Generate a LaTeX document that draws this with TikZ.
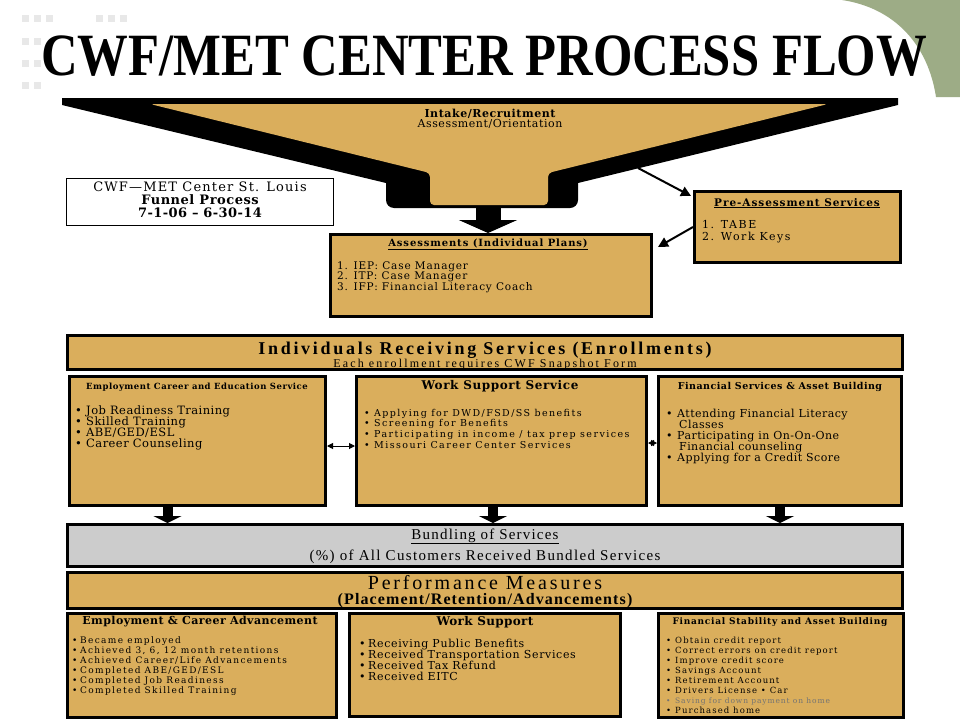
\documentclass[tikz,border=0pt]{standalone}
\usepackage{fontspec}
\usepackage{graphicx}
\setmainfont{DejaVu Serif}
\newfontfamily\tms{Liberation Serif}
\usetikzlibrary{arrows.meta,fit,calc}
\definecolor{tan}{RGB}{218,174,92}
\definecolor{sage}{RGB}{157,172,134}
\definecolor{bgray}{RGB}{204,204,204}
\definecolor{sq}{RGB}{232,232,232}
\newcommand\fs[2]{\fontsize{#1}{#1}\selectfont\addfontfeature{LetterSpace=#2}}
\begin{document}
\begin{tikzpicture}[x=1pt,y=-1pt,
  tbox/.style={draw=black, line width=3pt, fill=tan, inner sep=0pt},
  gbox/.style={draw=black, line width=3pt, fill=bgray, inner sep=0pt},
  ttl/.style={anchor=base, inner sep=0pt},
  lst/.style={anchor=base west, inner sep=0pt},
  conn/.style={draw=black, line width=2pt, -{Triangle[length=10pt,width=10pt]}},
  dbl/.style={draw=black, line width=1pt, {Triangle[length=6pt,width=6pt]}-{Triangle[length=6pt,width=6pt]}},
  blk/.style={draw=black, line width=10pt, -{Triangle[length=7pt,width=28pt]}},
  big/.style={draw=black, line width=25pt, -{Triangle[length=13pt,width=58pt]}},
]
\useasboundingbox (0,0) rectangle (960,720);
\fill[white] (0,0) rectangle (960,720);
% decoration
\fill[sage] (842,0) .. controls (895,8) and (928,45) .. (936,97) -- (960,97) -- (960,0) -- cycle;
\foreach \x in {22,34,46,96,108,120} \fill[sq] (\x,15) rectangle ++(7,7);
\foreach \yy in {38,60,82} \foreach \x in {22,34} \fill[sq] (\x,\yy) rectangle ++(7,7);
% title
\node[ttl] (title) at (484,75) {\scalebox{0.845}[1]{\tms\bfseries\fontsize{60}{60}\selectfont CWF/MET CENTER PROCESS FLOW}};
% funnel
\fill[black] (62,98) -- (898,98) -- (898,105) -- (578,183) [rounded corners=8pt] -- (578,208) -- (386,208) [sharp corners] -- (386,183) -- (62,105) -- cycle;
\fill[tan, rounded corners=4pt] (150,104) -- (828,104) -- (548,173) -- (548,205) -- (430,205) -- (430,173) -- cycle;
\coordinate (fbot) at (488,207);
\coordinate (fR) at (638,168);
\node[ttl] (intake) at (490,117) {\bfseries\fs{11}{5}Intake/Recruitment};
\node[ttl] (orient) at (490,127.5) {\fs{11}{5}Assessment/Orientation};
% CWF label box
\node[draw, line width=1pt, fill=white, inner sep=0pt, fit={(66.5,178.5)(333.5,225.5)}] (cwf) {};
\node[ttl] (cwf1) at (200,191) {\fs{13}{9}CWF—MET Center St. Louis};
\node[ttl] (cwf2) at (200,204) {\bfseries\fs{13}{4}Funnel Process};
\node[ttl] (cwf3) at (200,217) {\bfseries\fs{13}{3}7-1-06 – 6-30-14};
% pre-assessment
\node[tbox, fit={(694.5,191.5)(900.5,262.5)}] (pre) {};
\node[ttl] (preT) at (797,206) {\bfseries\fs{10.5}{9}\underline{Pre-Assessment Services}};
\node[lst] (pre1) at (702,228) {\fs{11}{14}1. TABE};
\node[lst] (pre2) at (702,240) {\fs{11}{14}2. Work Keys};
% assessments
\node[tbox, fit={(330.5,234.5)(651.5,316.5)}] (assess) {};
\node[ttl] (assT) at (488,246) {\bfseries\fs{10}{9}\underline{Assessments (Individual Plans)}};
\foreach \itm [count=\i from 0] in {1. IEP: Case Manager, 2. ITP: Case Manager, 3. IFP: Financial Literacy Coach}
  \node[lst] (ass\i) at (337,269+10.5*\i) {\fs{10.5}{8}\itm};
% connectors top
\coordinate (pretip) at (691,196);
\coordinate (atip) at (658,247);
\draw[big] (fbot) -- (fbot |- assess.north);
\draw[conn] (fR) -- (pretip);
\draw[conn] (pre.west) -- (atip);
% individuals
\node[tbox, fit={(67.5,335.5)(902.5,369.5)}] (indiv) {};
\node[ttl] (indT) at (485,354) {\tms\bfseries\fs{18}{15}Individuals Receiving Services (Enrollments)};
\node[ttl] (indS) at (485,367.5) {\tms\fs{12}{18}Each enrollment requires CWF Snapshot Form};
% middle boxes
\node[tbox, fit={(69.5,376.5)(325.5,505.5)}] (emp) {};
\node[tbox, fit={(356.5,376.5)(646.5,505.5)}] (work) {};
\node[tbox, fit={(658.5,376.5)(901.5,505.5)}] (fin) {};
\node[ttl] (empT) at (197,389) {\bfseries\fs{8.5}{6}Employment Career and Education Service};
\foreach \itm [count=\i from 0] in {Job Readiness Training, Skilled Training, ABE/GED/ESL, Career Counseling}
  \node[lst] (emp\i) at (75,414+11*\i) {\fs{11.5}{4}\makebox[11pt][l]{•}\itm};
\node[ttl] (workT) at (500,389) {\bfseries\fs{12}{5}Work Support Service};
\foreach \itm [count=\i from 0] in {Applying for DWD/FSD/SS benefits, Screening for Benefits, Participating in income / tax prep services, Missouri Career Center Services}
  \node[lst] (work\i) at (364,416+10.7*\i) {\fs{9.5}{15}\makebox[10pt][l]{•}\itm};
\node[ttl] (finT) at (780,389) {\bfseries\fs{9.5}{5}Financial Services \& Asset Building};
\foreach \itm [count=\i from 0] in {\makebox[11pt][l]{•}Attending Financial Literacy, \hspace*{13pt}Classes, \makebox[11pt][l]{•}Participating in On-On-One, \hspace*{13pt}Financial counseling, \makebox[11pt][l]{•}Applying for a Credit Score}
  \node[lst] (fin\i) at (666,417+11*\i) {\fs{11}{4}\itm};
\draw[dbl] ([yshift=-5pt]emp.east) -- ([yshift=-5pt]work.west);
\draw[dbl] ([yshift=-2pt]work.east) -- ([yshift=-2pt]fin.west);
% bundling
\node[gbox, fit={(67.5,524.5)(902.5,566.5)}] (bund) {};
\node[ttl] (bundT) at (485,539) {\tms\fs{15}{8}\underline{Bundling of Services}};
\node[ttl] (bundS) at (485,560) {\tms\fs{15}{9}(\%) of All Customers Received Bundled Services};
\coordinate (d1) at ($(emp.south)+(-30,0)$);
\coordinate (d2) at ($(work.south)+(-8.5,0)$);
\coordinate (d3) at (fin.south);
\draw[blk] (d1) -- (d1 |- bund.north);
\draw[blk] (d2) -- (d2 |- bund.north);
\draw[blk] (d3) -- (d3 |- bund.north);
% performance
\node[tbox, fit={(67.5,572.5)(902.5,608.5)}] (perf) {};
\node[ttl] (perfT) at (485,589) {\tms\fs{20}{14}Performance Measures};
\node[ttl] (perfS) at (485,604.5) {\tms\bfseries\fs{16}{7}(Placement/Retention/Advancements)};
% bottom boxes
\node[tbox, fit={(67.5,613.5)(336.5,717)}] (bl) {};
\node[tbox, fit={(349.5,613.5)(620.5,716)}] (bm) {};
\node[tbox, fit={(658.5,613.5)(903.5,717)}] (br) {};
\node[ttl] (blT) at (200,624) {\bfseries\fs{11}{4}Employment \& Career Advancement};
\foreach \itm [count=\i from 0] in {Became employed, {Achieved 3, 6, 12 month retentions}, Achieved Career/Life Advancements, Completed ABE/GED/ESL, Completed Job Readiness, Completed Skilled Training}
  \node[lst] (bl\i) at (72,643+10*\i) {\fs{9}{15}\makebox[8pt][l]{•}\itm};
\node[ttl] (bmT) at (485,625) {\bfseries\fs{12}{3}Work Support};
\foreach \itm [count=\i from 0] in {Receiving Public Benefits, Received Transportation Services, Received Tax Refund, Received EITC}
  \node[lst] (bm\i) at (359,647+11*\i) {\fs{11}{6}\makebox[9pt][l]{•}\itm};
\node[ttl] (brT) at (780,624) {\bfseries\fs{9}{8}Financial Stability and Asset Building};
\foreach \itm [count=\i from 0] in {Obtain credit report, Correct errors on credit report, Improve credit score, Savings Account, Retirement Account, Drivers License • Car}
  \node[lst] (br\i) at (666,643+10*\i) {\fs{8.5}{13}\makebox[9pt][l]{•}\itm};
\node[lst, text=black!55] (br6) at (666,703) {\fs{7.5}{12}\makebox[9pt][l]{•}Saving for down payment on home};
\node[lst] (br7) at (666,713) {\fs{8.5}{13}\makebox[9pt][l]{•}Purchased home};
\end{tikzpicture}
\end{document}
